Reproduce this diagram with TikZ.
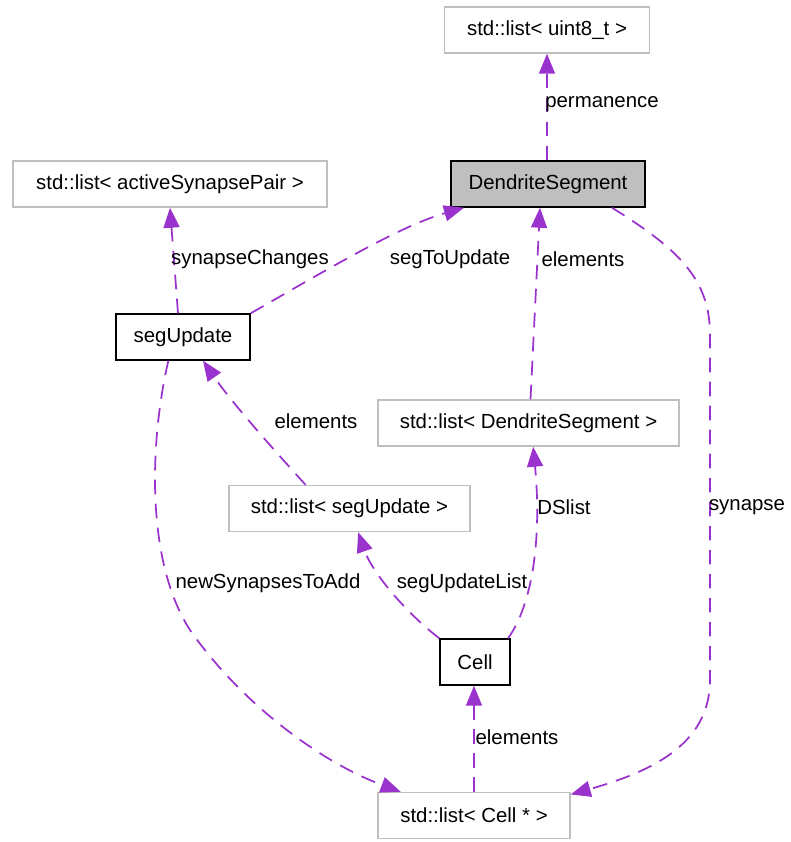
\documentclass[tikz,border=0pt]{standalone}
\usepackage{fontspec}
\setmainfont{Liberation Sans}
\usetikzlibrary{arrows.meta}
\definecolor{relpurple}{HTML}{9A32CD}
\definecolor{tmplgray}{HTML}{BFBFBF}

\begin{document}
\begin{tikzpicture}[x=0.75pt,y=-0.75pt,
  every node/.style={font=\fontsize{15.3}{18}\selectfont},
  cls/.style={draw=black,line width=1.1pt,minimum height=34.5pt,inner sep=0pt},
  tmpl/.style={draw=tmplgray,line width=1.1pt,minimum height=34.5pt,inner sep=0pt},
  rel/.style={draw=relpurple,line width=1.3pt,dash pattern=on 11pt off 7pt,
    -{Triangle[width=12pt,length=15pt,fill=relpurple]}},
  lbl/.style={inner sep=0pt}]
\useasboundingbox (0,0) rectangle (790,842);
% classes and templates
\node[tmpl,minimum width=153.75pt] (u8) at (547,30) {std::list< uint8\_t >};
\node[cls,fill=tmplgray,minimum width=145.5pt] (ds) at (548,184) {DendriteSegment};
\node[tmpl,minimum width=235.5pt] (asp) at (170,184) {std::list< activeSynapsePair >};
\node[cls,minimum width=100.5pt] (su) at (183,337) {segUpdate};
\node[tmpl,minimum width=225.75pt] (lds) at (528.5,423) {std::list< DendriteSegment >};
\node[tmpl,minimum width=180.75pt] (lsu) at (349.5,508.5) {std::list< segUpdate >};
\node[cls,minimum width=52.5pt] (cell) at (475,662) {Cell};
\node[tmpl,minimum width=144pt] (lc) at (474,815.5) {std::list< Cell * >};
% relations
\draw[rel] (ds.north -| u8.south) -- (u8.south);
\draw[rel] ([xshift=-3.75pt]su.north) -- ([xshift=0pt]asp.south);
\draw[rel] (su.north east) .. controls (330,268) and (400,226) .. ([xshift=-63pt]ds.south);
\draw[rel] ([xshift=1.5pt]lds.north) -- ([xshift=-6pt]ds.south);
\draw[rel] ([xshift=48pt]ds.south) .. controls (680,250) and (710,280) .. (710,335)
  -- (710,680) .. controls (710,745) and (650,772) .. ([yshift=-2pt]lc.north east);
\draw[rel] ([xshift=-33pt]lsu.north) .. controls (265,440) and (230,400) .. ([xshift=15pt]su.south);
\draw[rel] (cell.north west) .. controls (405,612) and (372,572) .. ([xshift=6.5pt]lsu.south);
\draw[rel] ([xshift=-2pt]cell.north east) .. controls (532,605) and (542,540) .. ([xshift=3.5pt]lds.south);
\draw[rel] ([xshift=-11pt]su.south) .. controls (150,440) and (145,560) .. (190,630)
  .. controls (240,702) and (320,762) .. ([xshift=-55pt]lc.north);
\draw[rel] (lc.north) -- (lc.north |- cell.south);
% labels
\node[lbl] (lperm) at (602,104) {permanence};
\node[lbl] (lsyn) at (250,259) {synapseChanges};
\node[lbl] (lstu) at (450,259) {segToUpdate};
\node[lbl] (lel1) at (583,259) {elements};
\node[lbl] (lel2) at (316,421) {elements};
\node[lbl] (lds2) at (564,507) {DSlist};
\node[lbl] (lsyn2) at (747,507) {synapse};
\node[lbl] (lnew) at (268,583) {newSynapsesToAdd};
\node[lbl] (lsul) at (462,583) {segUpdateList};
\node[lbl] (lel3) at (517,737) {elements};
\end{tikzpicture}
\end{document}
